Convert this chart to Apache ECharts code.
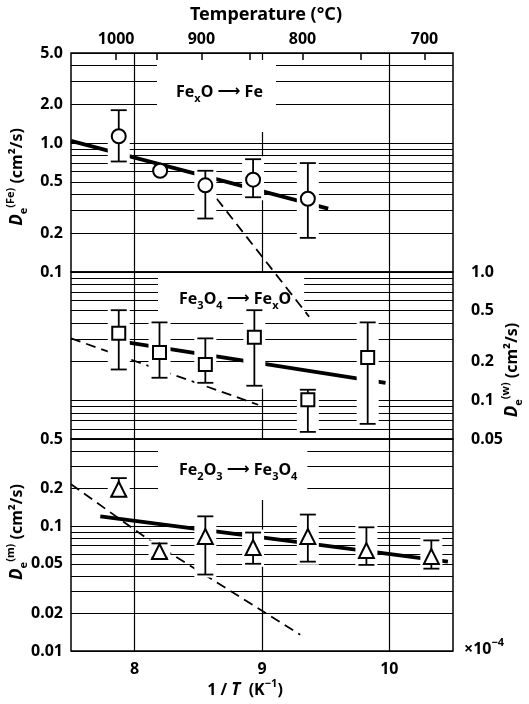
<!DOCTYPE html>
<html>
<head>
<meta charset="utf-8">
<script src="https://cdn.jsdelivr.net/npm/echarts@6/dist/echarts.min.js"></script>
<style>
  html, body { margin: 0; background: #fff; }
  #chart { width: 529px; height: 704px; }
</style>
</head>
<body>
<div id="chart"></div>
<script>
// x values are 1/T in units of 1e-4 K^-1
// top panel: FexO -> Fe
const fexoPoints = [[7.875, 1.13], [8.20, 0.61], [8.555, 0.47], [8.93, 0.52], [9.36, 0.37]];
const fexoErrors = [[7.875, 0.72, 1.80], [8.555, 0.26, 0.61], [8.93, 0.38, 0.75], [9.36, 0.184, 0.70]];
const fexoFit = [[7.5, 1.04], [9.52, 0.31]];
const fexoDashed = [[8.49, 0.58], [9.37, 0.045]];

// middle panel: Fe3O4 -> FexO
const fe3o4Points = [[7.875, 0.333], [8.195, 0.236], [8.555, 0.19], [8.94, 0.31], [9.36, 0.101], [9.83, 0.216]];
const fe3o4Errors = [[7.875, 0.174, 0.504], [8.195, 0.15, 0.405], [8.555, 0.137, 0.304], [8.94, 0.13, 0.504], [9.36, 0.0568, 0.121], [9.83, 0.0656, 0.405]];
const fe3o4Fit = [[7.94, 0.283], [9.97, 0.137]];
const fe3o4Dashed = [[7.5, 0.304], [8.97, 0.0924]];

// bottom panel: Fe2O3 -> Fe3O4
const fe2o3Points = [[7.875, 0.198], [8.195, 0.0627], [8.555, 0.0828], [8.93, 0.0675], [9.36, 0.0828], [9.82, 0.0638], [10.33, 0.0571]];
const fe2o3Errors = [[7.875, 0.175, 0.243], [8.195, 0.056, 0.0728], [8.555, 0.041, 0.12], [8.93, 0.05, 0.089], [9.36, 0.052, 0.124], [9.82, 0.049, 0.098], [10.33, 0.0457, 0.077]];
const fe2o3Fit = [[7.73, 0.12], [10.46, 0.052]];
const fe2o3Dashed = [[7.5, 0.217], [8.11, 0.078], [9.30, 0.0135]];

// axis ticks
const invTTicks = [8, 9, 10];
const tempTicks = [1000, 950, 900, 850, 800, 750, 700];
const tempLabels = [1000, 900, 800, 700];
const topLabels = [0.1, 0.2, 0.5, 1, 2, 5];
const midLabels = [0.05, 0.1, 0.2, 0.5, 1];
const botLabels = [0.01, 0.02, 0.05, 0.1, 0.2, 0.5];

const FONT = 'Noto Sans';

// log paper lines: 1..9 x 10^n between lo and hi
function logPaper(lo, hi) {
  const out = [];
  for (let e = -3; e <= 1; e++) {
    for (let k = 1; k <= 9; k++) {
      const v = +(k * Math.pow(10, e)).toPrecision(3);
      if (v >= lo * 0.999 && v <= hi * 1.001) out.push(v);
    }
  }
  return out;
}

const toInvT = t => 1e4 / (t + 273.15);

function fmt(v) {
  return v < 0.1 ? v.toFixed(2) : v.toFixed(1);
}

const grids = [
  { left: 71, right: 76, top: 53, height: 219 },
  { left: 71, right: 76, top: 272, height: 167 },
  { left: 71, right: 76, top: 439, height: 212 }
];

function invTAxis(gi, showLabels) {
  return {
    type: 'value', gridIndex: gi, min: 7.5, max: 10.5,
    axisLine: { show: false },
    axisTick: { show: false, customValues: invTTicks },
    axisLabel: {
      show: showLabels, customValues: invTTicks, margin: 10,
      fontFamily: FONT, fontSize: 16, fontWeight: 'bold', color: '#000'
    },
    splitLine: { show: true, lineStyle: { color: '#000', width: 1.2 } }
  };
}

function logAxis(gi, lo, hi, labels, pos) {
  return {
    type: 'log', logBase: 10, gridIndex: gi, min: lo, max: hi, position: pos,
    axisLine: { show: false },
    axisTick: { show: false, customValues: logPaper(lo, hi) },
    axisLabel: {
      customValues: labels, formatter: fmt, margin: pos === 'right' ? 18 : 8,
      fontFamily: FONT, fontSize: 16, fontWeight: 'bold', color: '#000'
    },
    splitLine: { show: true, lineStyle: { color: '#000', width: 1.2 } }
  };
}

function errorBar(params, api) {
  const x = api.value(0);
  const top = api.coord([x, api.value(2)]);
  const bot = api.coord([x, api.value(1)]);
  const w = 8;
  const st = { stroke: '#000', lineWidth: 1.8 };
  return {
    type: 'group',
    children: [
      { type: 'rect', shape: { x: top[0] - 11, y: top[1] - 3, width: 22, height: bot[1] - top[1] + 6 }, style: { fill: '#fff' } },
      { type: 'line', shape: { x1: top[0], y1: top[1], x2: bot[0], y2: bot[1] }, style: st },
      { type: 'line', shape: { x1: top[0] - w, y1: top[1], x2: top[0] + w, y2: top[1] }, style: st },
      { type: 'line', shape: { x1: bot[0] - w, y1: bot[1], x2: bot[0] + w, y2: bot[1] }, style: st }
    ]
  };
}

function panelSeries(gi, points, errors, fit, dashed, symbol, size) {
  const xi = gi === 0 ? 0 : gi + 1;
  return [
    {
      type: 'line', xAxisIndex: xi, yAxisIndex: gi, data: fit,
      showSymbol: false, clip: false, z: 2, silent: true,
      lineStyle: { color: '#000', width: 3.8 }
    },
    {
      type: 'line', xAxisIndex: xi, yAxisIndex: gi, data: dashed,
      showSymbol: false, clip: false, z: 2, silent: true,
      lineStyle: { color: '#000', width: 1.8, type: [10, 6] }
    },
    {
      type: 'custom', xAxisIndex: xi, yAxisIndex: gi, data: errors,
      renderItem: errorBar, encode: { x: 0, y: [1, 2] }, z: 3, silent: true
    },
    {
      type: 'scatter', xAxisIndex: xi, yAxisIndex: gi, data: points,
      symbol: symbol, symbolSize: size, z: 4, silent: true,
      itemStyle: { color: '#fff', borderColor: '#000', borderWidth: 2, opacity: 1 }
    }
  ];
}

const txt = { fontFamily: FONT, fontSize: 16, fontWeight: 'bold', fill: '#000' };
const rich = {
  n: { fontFamily: FONT, fontSize: 16, fontWeight: 'bold', lineHeight: 24, verticalAlign: 'middle' },
  i: { fontFamily: FONT, fontSize: 17, fontWeight: 'bold', fontStyle: 'italic', lineHeight: 24, verticalAlign: 'middle' },
  a: { fontFamily: 'DejaVu Sans', fontSize: 16, fontWeight: 'bold', lineHeight: 24, verticalAlign: 'middle' },
  sub: { fontFamily: FONT, fontSize: 11, fontWeight: 'bold', lineHeight: 13, verticalAlign: 'bottom' },
  sup: { fontFamily: FONT, fontSize: 11, fontWeight: 'bold', lineHeight: 13, verticalAlign: 'top' }
};

function label(x, y, text, padding) {
  return {
    type: 'text', x: x, y: y, z: 1,
    style: Object.assign({}, txt, {
      text: text, rich: rich, align: 'left', verticalAlign: 'middle',
      backgroundColor: '#fff', padding: padding
    })
  };
}

function vName(x, y, text) {
  return {
    type: 'text', x: x, y: y, rotation: Math.PI / 2, z: 1,
    style: Object.assign({}, txt, { text: text, rich: rich, align: 'center', verticalAlign: 'middle' })
  };
}

const chart = echarts.init(document.getElementById('chart'), null, { renderer: 'canvas' });
chart.setOption({
  animation: false,
  backgroundColor: '#fff',
  grid: grids.map(g => Object.assign({ show: true, borderColor: '#000', borderWidth: 1.5, backgroundColor: 'transparent' }, g)),
  xAxis: [
    invTAxis(0, false),
    {
      type: 'value', gridIndex: 0, position: 'top', min: 7.5, max: 10.5,
      axisLine: { show: false },
      axisTick: { show: true, inside: true, length: 7, customValues: tempTicks.map(toInvT), lineStyle: { color: '#000', width: 1.5 } },
      axisLabel: {
        customValues: tempLabels.map(toInvT), margin: 6,
        formatter: v => String(Math.round(1e4 / v - 273.15)),
        fontFamily: FONT, fontSize: 16, fontWeight: 'bold', color: '#000'
      },
      splitLine: { show: false }
    },
    invTAxis(1, false),
    invTAxis(2, true)
  ],
  yAxis: [
    logAxis(0, 0.1, 5, topLabels, 'left'),
    logAxis(1, 0.05, 1, midLabels, 'right'),
    logAxis(2, 0.01, 0.5, botLabels, 'left')
  ],
  series: [].concat(
    panelSeries(0, fexoPoints, fexoErrors, fexoFit, fexoDashed, 'circle', 14),
    panelSeries(1, fe3o4Points, fe3o4Errors, fe3o4Fit, fe3o4Dashed, 'rect', 13),
    panelSeries(2, fe2o3Points, fe2o3Errors, fe2o3Fit, fe2o3Dashed, 'triangle', 15)
  ),
  graphic: [
    { type: 'text', x: 266, y: 15, style: Object.assign({}, txt, { text: 'Temperature (°C)', fontSize: 18, align: 'center', verticalAlign: 'middle' }) },
    { type: 'text', x: 245, y: 690, style: Object.assign({}, txt, { text: '{n|1 / }{i|T}{n|  (K}{sup|−1}{n|)}', rich: rich, align: 'center', verticalAlign: 'middle' }) },
    { type: 'text', x: 464, y: 649, style: Object.assign({}, txt, { text: '{n|×10}{sup|−4}', rich: rich, align: 'left', verticalAlign: 'middle' }) },
    label(157, 96, '{n|Fe}{sub|x}{n|O }{a|⟶}{n| Fe}', [20, 13, 28, 19]),
    label(158, 296, '{n|Fe}{sub|3}{n|O}{sub|4}{n| }{a|⟶}{n| Fe}{sub|x}{n|O}', [14, 13, 8, 21]),
    label(158, 470, '{n|Fe}{sub|2}{n|O}{sub|3}{n| }{a|⟶}{n| Fe}{sub|3}{n|O}{sub|4}', [18, 10, 18, 21]),
    vName(17, 177, '{i|D}{sub|e}{sup|(Fe)}{n| (cm²/s)}'),
    vName(17, 532, '{i|D}{sub|e}{sup|(m)}{n| (cm²/s)}'),
    vName(512, 370, '{i|D}{sub|e}{sup|(w)}{n| (cm²/s)}')
  ]
});
</script>
</body>
</html>
